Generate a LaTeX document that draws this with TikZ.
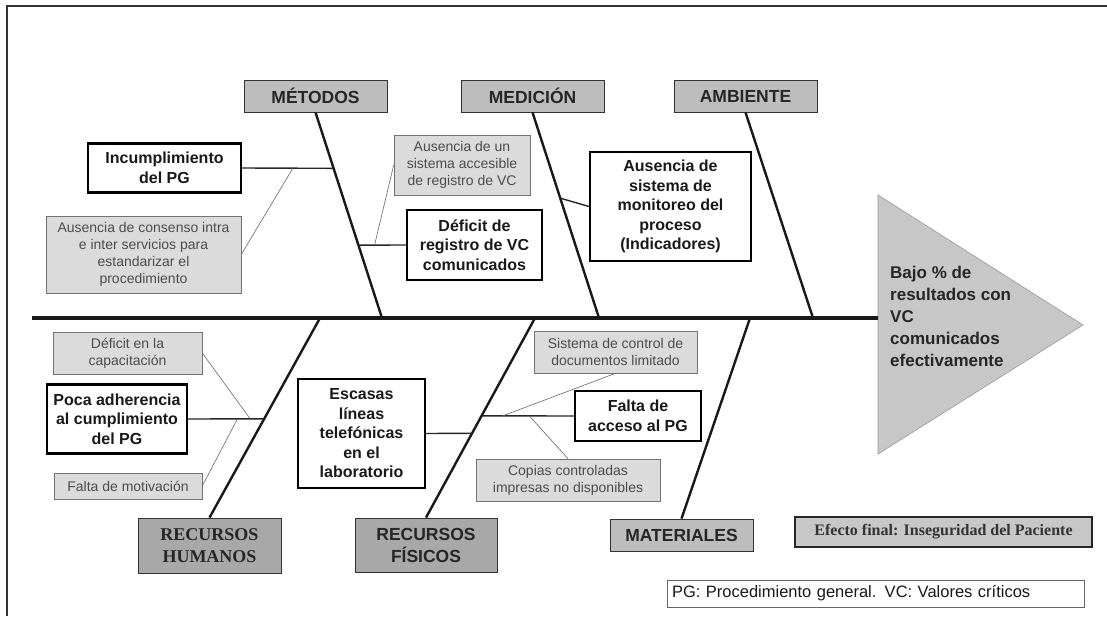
\documentclass[tikz,border=0pt]{standalone}
\usepackage{fontspec}
\setmainfont{Liberation Sans}
\newfontfamily\tnr{Liberation Serif}
\usetikzlibrary{calc}
\definecolor{hdrfill}{gray}{0.74}
\definecolor{darkfill}{gray}{0.66}
\definecolor{subfill}{gray}{0.86}
\definecolor{trifill}{gray}{0.78}
\tikzset{
  hdr/.style={draw=black!80, line width=0.8pt, fill=hdrfill, inner sep=0pt,
    minimum width=143pt, minimum height=32pt, align=center,
    font=\fontsize{17.5}{22}\selectfont\bfseries, text=black!85},
  hdrserif/.style={hdr, fill=darkfill, font=\fontsize{18}{22}\selectfont\tnr\bfseries},
  cause/.style={draw=black, line width=2.2pt, fill=white, inner sep=0pt, align=center,
    font=\fontsize{16}{19.5}\selectfont\bfseries, text=black!90},
  sub/.style={draw=black!55, line width=0.6pt, fill=subfill, inner sep=0pt, align=center,
    font=\fontsize{14}{17}\selectfont, text=black!70},
  bone/.style={line width=2.4pt, black!90},
  spine/.style={line width=3.2pt, black!90},
  link/.style={line width=1.4pt, black!85},
  twig/.style={line width=0.6pt, black!60},
  frame/.style={line width=1.8pt, black!80}
}
\begin{document}
\begin{tikzpicture}[x=1pt,y=-1pt]
\useasboundingbox (0,0) rectangle (1107,616);
% frame
\coordinate (fBL) at (7,616);
\coordinate (fTL) at (7,6);
\coordinate (fTR) at (1107,6);
\draw[frame] (fBL) -- (fTL) -- (fTR);

% effect triangle
\coordinate (tT) at (878,195);
\coordinate (tP) at (1083,325);
\coordinate (tB) at (878,454);
\draw[fill=trifill, draw=black!40, line width=0.6pt] (tT) -- (tP) -- (tB) -- cycle;
\node[anchor=west, inner sep=0pt, align=left, text=black!85,
  font=\fontsize{17}{22}\selectfont\bfseries] (eff) at (890,316)
  {Bajo \% de\\resultados con\\VC\\comunicados\\efectivamente};

% spine
\coordinate (spL) at (32,318);
\coordinate (spR) at (878,318);
\draw[spine] (spL) -- (spR);

% category headers
\node[hdr] (met) at (315.5,96) {MÉTODOS};
\node[hdr] (med) at (532.5,96) {MEDICIÓN};
\node[hdr] (amb) at (745.5,96) {AMBIENTE};
\node[hdrserif, minimum height=55pt] (rh) at (209.5,545.5) {RECURSOS\\HUMANOS};
\node[hdr, fill=darkfill, minimum width=142pt, minimum height=54pt] (rf) at (426,545) {RECURSOS\\FÍSICOS};
\node[hdr] (mat) at (681.5,535) {MATERIALES};

% bone ends on spine
\coordinate (sM) at (382,318);
\coordinate (sD) at (599,318);
\coordinate (sA) at (813,318);
\coordinate (sH) at (320,318);
\coordinate (sF) at (535,318);
\coordinate (sT) at (750,318);

\draw[bone] (met.south) -- (sM);
\draw[bone] (med.south) -- (sD);
\draw[bone] (amb.south) -- (sA);
\draw[bone] (sH) -- (rh.north);
\draw[bone] (sF) -- (rf.north);
\draw[bone] (sT) -- (mat.north);

% cause boxes
\node[cause, minimum width=153pt, minimum height=49pt] (inc) at (164.5,168) {Incumplimiento\\del PG};
\node[cause, minimum width=135pt, minimum height=70pt] (def) at (474.5,245) {Déficit de\\registro de VC\\comunicados};
\node[cause, minimum width=161pt, minimum height=109pt] (mon) at (670.5,206.5) {Ausencia de\\sistema de\\monitoreo del\\proceso\\(Indicadores)};
\node[cause, minimum width=140pt, minimum height=69pt] (poc) at (117,419) {Poca adherencia\\al cumplimiento\\del PG};
\node[cause, minimum width=127pt, minimum height=109pt] (esc) at (361.5,433.5) {Escasas\\líneas\\telefónicas\\en el\\laboratorio};
\node[cause, minimum width=126pt, minimum height=50pt] (fal) at (638,416) {Falta de\\acceso al PG};

% sub-cause boxes
\node[sub, minimum width=195pt, minimum height=77pt] (con) at (143.5,254.5) {Ausencia de consenso intra\\e inter servicios para\\estandarizar el\\procedimiento};
\node[sub, minimum width=136pt, minimum height=60pt] (aus) at (462,165) {Ausencia de un\\sistema accesible\\de registro de VC};
\node[sub, minimum width=149pt, minimum height=42pt] (cap) at (127.5,353) {Déficit en la\\capacitación};
\node[sub, minimum width=148pt, minimum height=26pt] (mot) at (128,486) {Falta de motivación};
\node[sub, minimum width=163pt, minimum height=42pt] (sis) at (615.5,352) {Sistema de control de\\documentos limitado};
\node[sub, minimum width=184pt, minimum height=42pt] (cop) at (568,480) {Copias controladas\\impresas no disponibles};

% junctions on bones
\coordinate (jInc) at ($(met.south)!0.272!(sM)$);
\coordinate (jDef) at ($(met.south)!0.6456!(sM)$);
\coordinate (jMon) at ($(med.south)!0.417!(sD)$);
\coordinate (jPoc) at ($(sH)!0.505!(rh.north)$);
\coordinate (jEsc) at ($(sF)!0.5775!(rf.north)$);
\coordinate (jFal) at ($(sF)!0.49!(rf.north)$);

% links from causes to bones
\draw[link] (inc.east) -- (jInc);
\draw[link] (jDef) -- (def.west);
\draw[link] (jMon) -- (mon.west);
\draw[link] (poc.east) -- (jPoc);
\draw[link] (esc.east) -- (jEsc);
\draw[link] (jFal) -- (fal.west);

% twigs from sub-causes
\coordinate (kCon) at ($(inc.east)!0.555!(jInc)$);
\coordinate (kAus) at ($(jDef)!0.34!(def.west)$);
\coordinate (kCap) at ($(poc.east)!0.816!(jPoc)$);
\coordinate (kMot) at ($(poc.east)!0.648!(jPoc)$);
\coordinate (kSis) at ($(jFal)!0.229!(fal.west)$);
\coordinate (kCop) at ($(jFal)!0.518!(fal.west)$);
\draw[twig] (con.east) -- (kCon);
\draw[twig] (kAus) -- (aus.west);
\draw[twig] (cap.east) -- (kCap);
\draw[twig] (mot.east) -- (kMot);
\draw[twig] (kSis) -- (sis.south);
\draw[twig] (kCop) -- (cop.north);

% final effect and legend
\node[draw=black!85, line width=2.2pt, fill=trifill, minimum width=297pt, minimum height=30pt,
  inner sep=0pt, font=\fontsize{16}{19}\selectfont\tnr\bfseries, text=black!80] (efe) at (943.5,532)
  {Efecto final: Inseguridad del Paciente};
\node[draw=black!60, line width=0.7pt, fill=white, text width=407pt, inner xsep=5pt, inner ysep=0pt,
  minimum height=27pt, align=left, font=\fontsize{16.5}{19}\selectfont, text=black!90] (leg) at (875.5,593.5)
  {PG: Procedimiento general. VC: Valores críticos};
\end{tikzpicture}
\end{document}
